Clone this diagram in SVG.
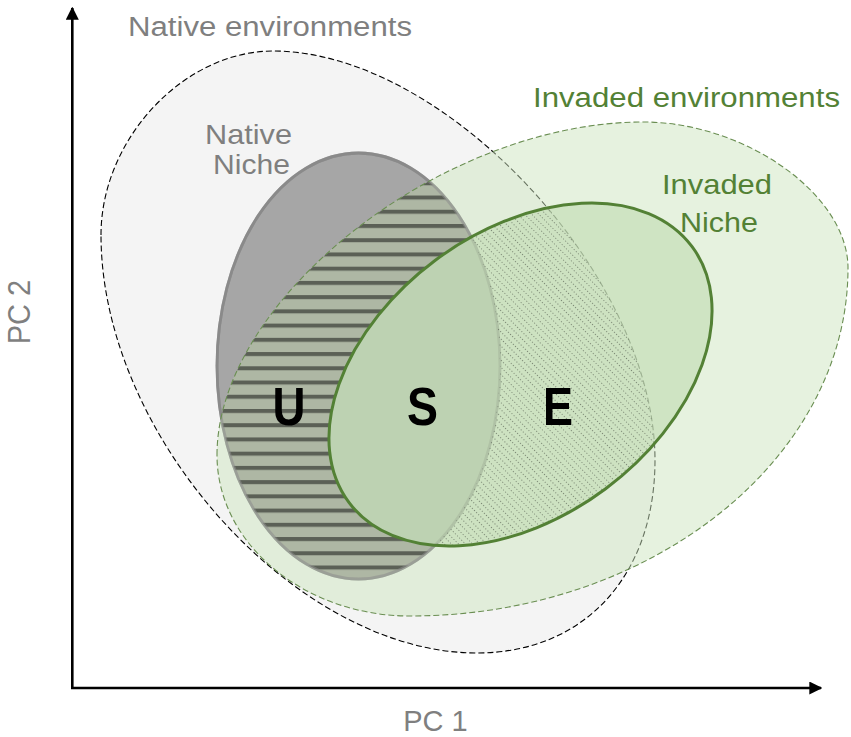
<svg xmlns="http://www.w3.org/2000/svg" width="851" height="737" viewBox="0 0 851 737">
<style>
.lbl{font-family:"Liberation Sans",Arial,sans-serif;}
.gray{fill:#7f7f7f;}
.green{fill:#538135;}
.big{font-weight:bold;font-size:54px;fill:#000;text-anchor:middle;}
.axis{stroke:#000;stroke-width:2.6;fill:none;}
</style>
<defs>
<marker id="arr" viewBox="0 0 10 10" refX="9" refY="5" markerWidth="5" markerHeight="5" markerUnits="strokeWidth" orient="auto">
<path d="M0,0 L10,5 L0,10 Z" fill="#000"/>
</marker>
<path id="nenv" d="M101,235 C101,139 184,51 273,51 C445,51 655,276 655,460 C655,576 584,653 477,653 C296,653 101,436 101,235 Z"/>
<path id="ienv" d="M217,455 C217,298.5 443,122 643,122 C745.5,122 848,195 848,268 C848,459 651,616 410,616 C304,616 217,543.5 217,455 Z"/>
<ellipse id="nniche" cx="358.5" cy="366" rx="141.5" ry="213"/>
<ellipse id="iniche" cx="520.5" cy="374.5" rx="214" ry="142.5" transform="rotate(-36.7 520.5 374.5)"/>
<clipPath id="clipIenv"><use href="#ienv"/></clipPath>
<clipPath id="clipIniche"><use href="#iniche"/></clipPath>
<mask id="maskU" maskUnits="userSpaceOnUse" x="0" y="0" width="851" height="737">
<use href="#nniche" fill="#fff"/>
<use href="#iniche" fill="#000"/>
</mask>
<mask id="maskE" maskUnits="userSpaceOnUse" x="0" y="0" width="851" height="737">
<use href="#nenv" fill="#fff"/>
<use href="#nniche" fill="#000"/>
</mask>
<pattern id="stripes" patternUnits="userSpaceOnUse" x="0" y="181.3" width="20" height="14.23">
<rect width="20" height="14.23" fill="#aeb7a4"/>
<rect width="20" height="4" fill="#5b6056"/>
</pattern>
<pattern id="dots" patternUnits="userSpaceOnUse" width="3" height="5" patternTransform="rotate(45)">
<rect width="0.9" height="0.9" fill="#66705f"/>
</pattern>
</defs>
<rect width="851" height="737" fill="#fff"/>

<g id="native-environments">
<use href="#nenv" fill="#f4f4f4" stroke="#000" stroke-width="1.1" stroke-dasharray="6 3"/>
</g>

<g id="native-niche">
<use href="#nniche" fill="#a6a6a6" stroke="#888888" stroke-width="2.8"/>
</g>

<g id="invaded-environments">
<use href="#ienv" fill="#cde5bf" fill-opacity="0.5"/>
</g>

<g id="region-U">
<rect x="200" y="150" width="320" height="440" fill="url(#stripes)" clip-path="url(#clipIenv)" mask="url(#maskU)"/>
<use href="#nniche" fill="none" stroke="#8c8c8c" stroke-width="2.8" stroke-opacity="0.55"/>
</g>

<g id="invaded-environments-outline">
<use href="#ienv" fill="none" stroke="#6a8e52" stroke-width="1.1" stroke-dasharray="6 3"/>
</g>

<g id="invaded-niche">
<use href="#iniche" fill="#c0dbb0" fill-opacity="0.6"/>
</g>

<g id="region-E">
<rect x="300" y="180" width="420" height="380" fill="url(#dots)" clip-path="url(#clipIniche)" mask="url(#maskE)"/>
</g>

<g id="invaded-niche-outline">
<use href="#iniche" fill="none" stroke="#538135" stroke-width="3"/>
</g>

<g id="connectors">
<line class="axis" x1="72.3" y1="689" x2="72.3" y2="8" marker-end="url(#arr)"/>
<line class="axis" x1="71" y1="688" x2="821" y2="688" marker-end="url(#arr)"/>
</g>

<g id="labels">
<text class="lbl gray" x="128" y="36" font-size="27" textLength="284" lengthAdjust="spacingAndGlyphs">Native environments</text>
<text class="lbl gray" x="205" y="144" font-size="28" textLength="87" lengthAdjust="spacingAndGlyphs">Native</text>
<text class="lbl gray" x="213" y="174" font-size="28" textLength="77" lengthAdjust="spacingAndGlyphs">Niche</text>
<text class="lbl green" x="533" y="107" font-size="27" textLength="307" lengthAdjust="spacingAndGlyphs">Invaded environments</text>
<text class="lbl green" x="662" y="194" font-size="28.5" textLength="110" lengthAdjust="spacingAndGlyphs">Invaded</text>
<text class="lbl green" x="680" y="232" font-size="28.5" textLength="78" lengthAdjust="spacingAndGlyphs">Niche</text>
<text class="lbl big" x="289" y="424.5" textLength="33" lengthAdjust="spacingAndGlyphs">U</text>
<text class="lbl big" x="422.5" y="424.5" textLength="31" lengthAdjust="spacingAndGlyphs">S</text>
<text class="lbl big" x="558" y="424.5" textLength="30" lengthAdjust="spacingAndGlyphs">E</text>
<text class="lbl gray" x="435.5" y="731" font-size="29" text-anchor="middle">PC 1</text>
<text class="lbl gray" font-size="29" text-anchor="middle" transform="translate(30,312) rotate(-90) scale(1,1.1)">PC 2</text>
</g>
</svg>
